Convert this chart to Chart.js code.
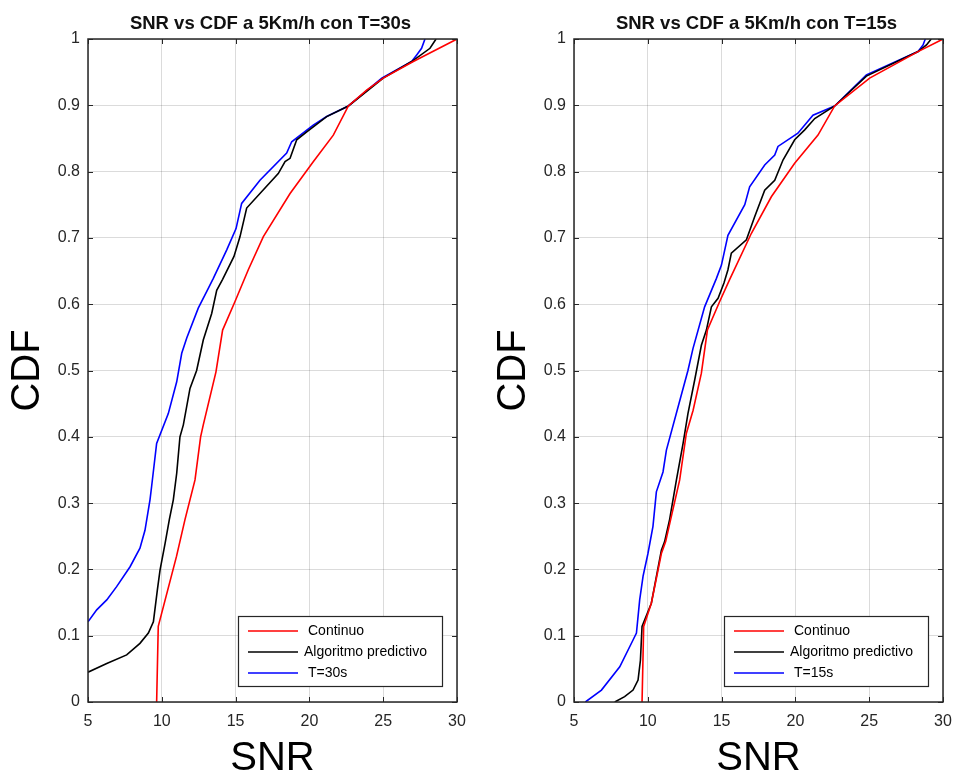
<!DOCTYPE html>
<html><head><meta charset="utf-8">
<script src="https://cdn.jsdelivr.net/npm/chart.js@4/dist/chart.umd.min.js"></script>
<style>
html,body{margin:0;padding:0;background:#fff;width:954px;height:775px;overflow:hidden}
#w{position:relative;width:954px;height:775px;background:#fff;overflow:hidden}
canvas{position:absolute;top:0}
</style></head><body><div id="w">
<canvas id="c1" width="477" height="775" style="left:0"></canvas>
<canvas id="c2" width="477" height="775" style="left:486px"></canvas>
</div>
<script>
// ---- data ----
const xTickValues = [5, 10, 15, 20, 25, 30];
const yTickLabels = ['0','0.1','0.2','0.3','0.4','0.5','0.6','0.7','0.8','0.9','1'];
const titleLeft = 'SNR vs CDF a 5Km/h con T=30s';
const titleRight = 'SNR vs CDF a 5Km/h con T=15s';
const labelsLeft = ['Continuo', 'Algoritmo predictivo', 'T=30s'];
const labelsRight = ['Continuo', 'Algoritmo predictivo', 'T=15s'];

// [SNR, CDF]
const leftContinuo = [[9.65,0],[9.76,0.114],[11.0,0.22],[11.57,0.275],[12.25,0.335],[12.63,0.40],[12.81,0.418],[13.67,0.498],[14.12,0.561],[14.96,0.604],[15.86,0.652],[16.88,0.702],[18.69,0.767],[20.26,0.815],[21.62,0.855],[22.64,0.899],[23.88,0.923],[25.0,0.941],[27.04,0.966],[30,1.0]];
const leftAlgoritmo = [[5,0.045],[6.27,0.058],[7.62,0.071],[8.52,0.0885],[9.09,0.104],[9.43,0.121],[9.70,0.169],[9.88,0.199],[10.22,0.239],[10.51,0.275],[10.78,0.305],[11.01,0.345],[11.23,0.40],[11.46,0.418],[11.91,0.473],[12.36,0.50],[12.81,0.546],[13.38,0.586],[13.72,0.621],[14.12,0.6375],[14.89,0.672],[15.30,0.702],[15.75,0.745],[16.65,0.767],[17.89,0.797],[18.35,0.815],[18.69,0.820],[19.14,0.848],[19.82,0.860],[21.17,0.883],[22.64,0.899],[25.0,0.941],[26.93,0.966],[28.17,0.986],[28.58,1.0]];
const leftT30 = [[5,0.121],[5.59,0.139],[6.27,0.154],[6.94,0.174],[7.85,0.204],[8.52,0.232],[8.86,0.259],[9.20,0.305],[9.31,0.325],[9.65,0.39],[10.44,0.435],[11.01,0.483],[11.35,0.526],[11.69,0.549],[12.47,0.594],[13.15,0.624],[13.49,0.639],[14.40,0.682],[15.03,0.714],[15.41,0.752],[16.65,0.787],[18.46,0.828],[18.80,0.845],[20.26,0.870],[21.17,0.883],[22.64,0.899],[24.9,0.941],[26.93,0.966],[27.27,0.976],[27.6,0.986],[27.83,1.0]];

const rightContinuo = [[9.61,0],[9.72,0.114],[10.24,0.149],[10.92,0.224],[11.21,0.242],[11.55,0.2755],[12.16,0.335],[12.61,0.405],[13.07,0.44],[13.63,0.496],[14.04,0.561],[14.87,0.604],[15.55,0.6375],[17.02,0.707],[18.37,0.762],[19.95,0.8125],[21.53,0.855],[22.66,0.899],[25.03,0.941],[28.31,0.981],[30,1.0]];
const rightAlgoritmo = [[7.76,0],[8.43,0.008],[9.0,0.018],[9.34,0.033],[9.5,0.063],[9.61,0.114],[10.24,0.149],[10.92,0.229],[11.14,0.242],[11.48,0.2755],[11.94,0.335],[12.39,0.39],[12.72,0.435],[13.18,0.486],[13.63,0.538],[13.97,0.561],[14.31,0.596],[14.76,0.609],[15.16,0.632],[15.43,0.652],[15.66,0.677],[16.68,0.697],[17.24,0.732],[17.92,0.772],[18.60,0.787],[19.16,0.8175],[19.95,0.848],[20.63,0.863],[21.31,0.880],[22.66,0.899],[24.81,0.944],[28.31,0.981],[28.88,0.991],[29.2,1.0]];
const rightT15 = [[5.77,0],[6.86,0.018],[8.10,0.053],[9.0,0.0935],[9.23,0.104],[9.45,0.154],[9.68,0.19],[10.01,0.224],[10.35,0.265],[10.58,0.317],[11.03,0.347],[11.26,0.38],[12.05,0.445],[12.72,0.50],[13.06,0.533],[13.85,0.596],[14.65,0.639],[14.99,0.659],[15.43,0.704],[16.57,0.75],[16.90,0.777],[17.92,0.810],[18.60,0.825],[18.82,0.838],[20.17,0.858],[21.19,0.885],[22.66,0.899],[24.81,0.946],[28.31,0.981],[28.65,0.991],[28.8,1.0]];

// ---- styling / rendering ----
const seriesColors = ['#ff0000', '#000000', '#0000ff'];
const FONT = '"Liberation Sans", Arial, Helvetica, sans-serif';

const matlabDecor = {
  id: 'matlabDecor',
  afterDraw(chart, args, opts) {
    const {ctx, chartArea: a, scales: {x, y}} = chart;
    ctx.save();
    const L = 5;
    ctx.strokeStyle = '#262626';
    ctx.lineWidth = 1;
    ctx.beginPath();
    x.ticks.forEach(t => {
      const px = Math.round(x.getPixelForValue(t.value)) + 0.5;
      ctx.moveTo(px, a.bottom); ctx.lineTo(px, a.bottom - L);
      ctx.moveTo(px, a.top); ctx.lineTo(px, a.top + L);
    });
    y.ticks.forEach(t => {
      const py = Math.round(y.getPixelForValue(t.value)) + 0.5;
      ctx.moveTo(a.left, py); ctx.lineTo(a.left + L, py);
      ctx.moveTo(a.right, py); ctx.lineTo(a.right - L, py);
    });
    ctx.stroke();
    ctx.lineWidth = 1.5;
    ctx.strokeRect(a.left, a.top, a.right - a.left, a.bottom - a.top);
    // title
    ctx.fillStyle = '#111';
    ctx.font = 'bold 18.5px ' + FONT;
    ctx.textAlign = 'center';
    ctx.textBaseline = 'middle';
    ctx.fillText(opts.title, (a.left + a.right) / 2 - 2, a.top - 15);
    // legend
    const bw = 204, bh = 70;
    const bx = Math.round(a.right - 15 - bw), by = Math.round(a.bottom - 16 - bh);
    ctx.fillStyle = '#fff';
    ctx.fillRect(bx, by, bw, bh);
    ctx.lineWidth = 1.2;
    ctx.strokeStyle = '#262626';
    ctx.strokeRect(bx + 0.5, by + 0.5, bw, bh);
    ctx.font = '14px ' + FONT;
    ctx.textAlign = 'left';
    chart.data.datasets.forEach((ds, i) => {
      const ly = by + 15 + 21 * i;
      ctx.strokeStyle = ds.borderColor;
      ctx.lineWidth = 1.5;
      ctx.beginPath(); ctx.moveTo(bx + 10, ly); ctx.lineTo(bx + 60, ly); ctx.stroke();
      ctx.fillStyle = '#000';
      ctx.fillText(ds.label, bx + (i === 1 ? 66 : 70), ly);
    });
    ctx.restore();
  }
};

function makeChart(id, title, labels, seriesList, padRight) {
  return new Chart(document.getElementById(id), {
    type: 'scatter',
    data: {
      datasets: seriesList.map((s, i) => ({
        label: labels[i],
        data: s.map(([sx, sy]) => ({x: sx, y: sy})),
        showLine: true,
        borderColor: seriesColors[i],
        backgroundColor: seriesColors[i],
        borderWidth: 1.6,
        pointRadius: 0,
        tension: 0
      }))
    },
    options: {
      responsive: false,
      animation: false,
      events: [],
      layout: {padding: {top: 39, right: padRight, left: 0, bottom: 0}},
      plugins: {
        legend: {display: false},
        tooltip: {enabled: false},
        title: {display: false},
        matlabDecor: {title: title}
      },
      scales: {
        x: {
          type: 'linear', min: 5, max: 30,
          afterBuildTicks: sc => { sc.ticks = xTickValues.map(v => ({value: v})); },
          afterFit: sc => { sc.height = 73; },
          ticks: {
            color: '#262626', font: {family: FONT, size: 16}, padding: 10, maxRotation: 0,
            callback: v => String(v)
          },
          grid: {color: 'rgba(0,0,0,0.14)', lineWidth: 1, drawTicks: false},
          border: {display: false},
          title: {display: true, text: 'SNR', color: '#000', font: {family: FONT, size: 40}, padding: {top: 0, bottom: -8}}
        },
        y: {
          type: 'linear', min: 0, max: 1,
          afterBuildTicks: sc => { sc.ticks = yTickLabels.map((_, i) => ({value: i / 10})); },
          afterFit: sc => { sc.width = 88; },
          ticks: {
            color: '#262626', font: {family: FONT, size: 16}, padding: 8,
            callback: v => yTickLabels[Math.round(v * 10)]
          },
          grid: {color: 'rgba(0,0,0,0.14)', lineWidth: 1, drawTicks: false},
          border: {display: false},
          title: {display: true, text: 'CDF', color: '#000', font: {family: FONT, size: 40}, padding: {top: 4, bottom: 0}}
        }
      }
    },
    plugins: [matlabDecor]
  });
}

makeChart('c1', titleLeft, labelsLeft, [leftContinuo, leftAlgoritmo, leftT30], 20);
makeChart('c2', titleRight, labelsRight, [rightContinuo, rightAlgoritmo, rightT15], 20);
</script>
</body></html>
